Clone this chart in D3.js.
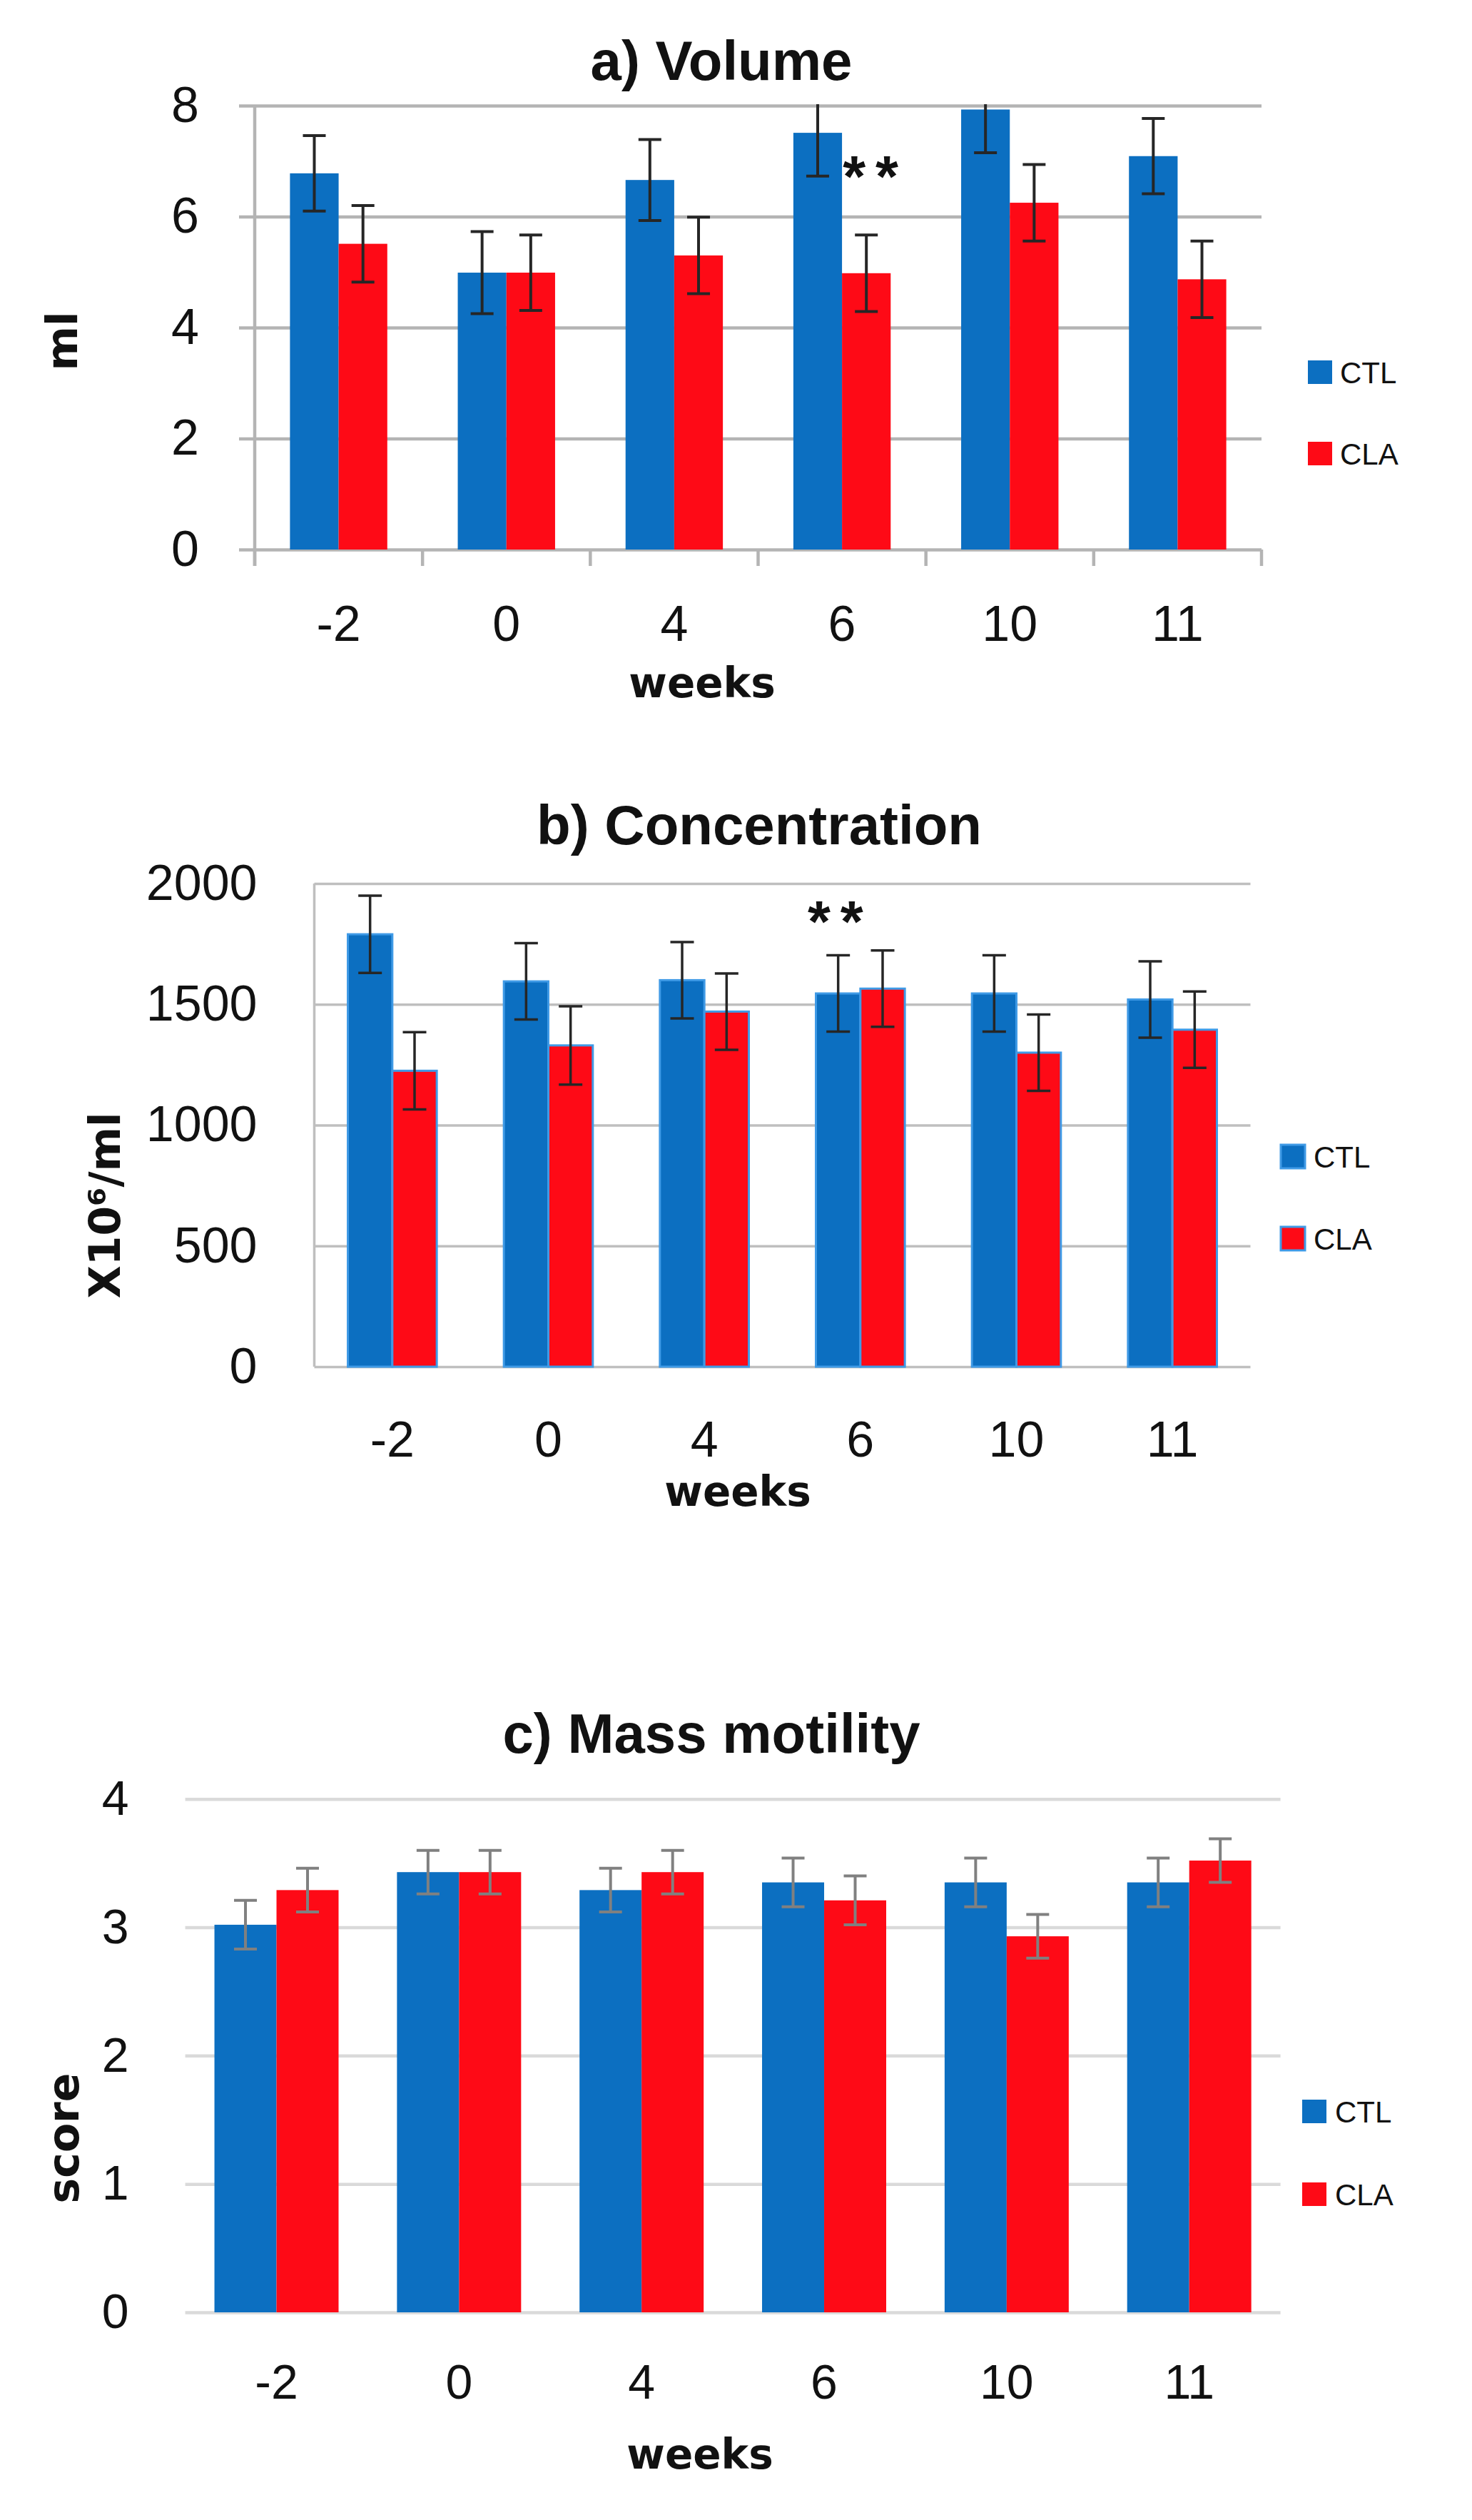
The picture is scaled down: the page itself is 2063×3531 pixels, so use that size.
<!DOCTYPE html>
<html>
<head>
<meta charset="utf-8">
<script src="https://cdn.jsdelivr.net/npm/d3@7"></script>
<style>
  body { margin: 0; background: #fff; }
</style>
</head>
<body>
<script>
const width = 2063;
const height = 3531;

// Data
const weeks = ["-2", "0", "4", "6", "10", "11"];
const series = ["CTL", "CLA"];
const colors = { CTL: "#0c6fc1", CLA: "#fe0a16" };

const volumeCTL = [6.78, 4.99, 6.66, 7.51, 7.93, 7.09];
const volumeCTLErr = [0.68, 0.74, 0.73, 0.78, 0.78, 0.68];
const volumeCLA = [5.51, 4.99, 5.3, 4.98, 6.25, 4.87];
const volumeCLAErr = [0.69, 0.68, 0.69, 0.69, 0.69, 0.69];
const volumeTicks = [0, 2, 4, 6, 8];

const concCTL = [1790, 1595, 1600, 1545, 1545, 1520];
const concCTLErr = [160, 158, 158, 158, 158, 158];
const concCLA = [1225, 1330, 1470, 1565, 1300, 1395];
const concCLAErr = [160, 162, 158, 158, 158, 158];
const concTicks = [0, 500, 1000, 1500, 2000];

const motCTL = [3.02, 3.43, 3.29, 3.35, 3.35, 3.35];
const motCTLErr = [0.19, 0.17, 0.17, 0.19, 0.19, 0.19];
const motCLA = [3.29, 3.43, 3.43, 3.21, 2.93, 3.52];
const motCLAErr = [0.17, 0.17, 0.17, 0.19, 0.17, 0.17];
const motTicks = [0, 1, 2, 3, 4];

const titles = ["a) Volume", "b) Concentration", "c) Mass motility"];
const yTitles = ["ml", "X10⁶/ml", "score"];
const xTitle = "weeks";
const starText = "**";

const labelFont = "'Liberation Sans', Arial, sans-serif";
const axisTitleFont = "'DejaVu Sans', Verdana, sans-serif";

const svg = d3
  .select("body")
  .append("svg")
  .attr("width", width)
  .attr("height", height);
svg.append("rect").attr("width", width).attr("height", height).attr("fill", "#fff");

// Layout of each panel
const panels = [
  {
    id: "a", title: titles[0], yTitle: yTitles[0], ticks: volumeTicks,
    ctl: volumeCTL, ctlErr: volumeCTLErr, cla: volumeCLA, claErr: volumeCLAErr,
    left: 357, right: 1768, top: 148, bottom: 770, pad: 0.42,
    gridExt: 22, gridColor: "#b4b4b4", gridWidth: 4.5, axisLine: true, catTicks: true,
    barStroke: null, errColor: "#262626", errWidth: 4, cap: 32,
    yPad: 78, xLabelY: 128, labelSize: 70,
    titlePos: [1011, 112], xTitlePos: [984, 977], yTitlePos: [108, 478],
    legendX: 1833, legendY: [505, 619], legendTextX: 1878,
    star: { index: 3, dx: 47, y: 275 }
  },
  {
    id: "b", title: titles[1], yTitle: yTitles[1], ticks: concTicks,
    ctl: concCTL, ctlErr: concCTLErr, cla: concCLA, claErr: concCLAErr,
    left: 440.5, right: 1752.5, top: 1238, bottom: 1915, pad: 0.43,
    gridExt: 0, gridColor: "#bfbfbf", gridWidth: 3.5, axisLine: true, catTicks: false,
    barStroke: "#3f9ae6", errColor: "#262626", errWidth: 3.5, cap: 33,
    yPad: 80, xLabelY: 126, labelSize: 70,
    titlePos: [1064, 1183], xTitlePos: [1034, 2110], yTitlePos: [168, 1689],
    legendX: 1795, legendY: [1604, 1719], legendTextX: 1841,
    star: { index: 3, dx: -28, y: 1319 }
  },
  {
    id: "c", title: titles[2], yTitle: yTitles[2], ticks: motTicks,
    ctl: motCTL, ctlErr: motCTLErr, cla: motCLA, claErr: motCLAErr,
    left: 259.6, right: 1794.6, top: 2520.7, bottom: 3240, pad: 0.32,
    gridExt: 0, gridColor: "#dadada", gridWidth: 4.5, axisLine: false, catTicks: false,
    barStroke: null, errColor: "#808080", errWidth: 4, cap: 32,
    yPad: 79, xLabelY: 121, labelSize: 68,
    titlePos: [997, 2456], xTitlePos: [981, 3459], yTitlePos: [110, 2996],
    legendX: 1825, legendY: [2942, 3058], legendTextX: 1871,
    star: null
  }
];

panels.forEach(drawPanel);

function drawPanel(p) {
  const x = d3
    .scaleBand()
    .domain(weeks)
    .range([p.left, p.right])
    .paddingInner(p.pad)
    .paddingOuter(p.pad / 2);
  const xs = d3.scaleBand().domain(series).range([0, x.bandwidth()]);
  const y = d3.scaleLinear().domain([0, d3.max(p.ticks)]).range([p.bottom, p.top]);

  const g = svg.append("g").attr("id", "panel-" + p.id);

  // Gridlines
  g.append("g")
    .attr("transform", `translate(${p.left - p.gridExt},0)`)
    .call(
      d3.axisLeft(y)
        .tickValues(p.ticks)
        .tickSize(-(p.right - p.left + p.gridExt))
        .tickFormat("")
    )
    .call((a) => a.select(".domain").remove())
    .call((a) =>
      a.selectAll("line").attr("stroke", p.gridColor).attr("stroke-width", p.gridWidth)
    );

  const rows = [];
  weeks.forEach((w, i) => {
    rows.push({ week: w, key: "CTL", value: p.ctl[i], err: p.ctlErr[i] });
    rows.push({ week: w, key: "CLA", value: p.cla[i], err: p.claErr[i] });
  });

  // Bars
  g.append("g")
    .selectAll("rect")
    .data(rows)
    .join("rect")
    .attr("x", (d) => x(d.week) + xs(d.key))
    .attr("y", (d) => y(d.value))
    .attr("width", xs.bandwidth())
    .attr("height", (d) => y(0) - y(d.value))
    .attr("fill", (d) => colors[d.key])
    .attr("stroke", p.barStroke || "none")
    .attr("stroke-width", p.barStroke ? 3 : 0);

  // Error bars, clipped to the plot area like the spreadsheet does
  const clipId = "clip-" + p.id;
  svg.append("clipPath")
    .attr("id", clipId)
    .append("rect")
    .attr("x", p.left)
    .attr("y", p.top - 2)
    .attr("width", p.right - p.left)
    .attr("height", p.bottom - p.top + 2);

  const err = g.append("g")
    .attr("clip-path", `url(#${clipId})`)
    .attr("stroke", p.errColor)
    .attr("stroke-width", p.errWidth)
    .selectAll("g")
    .data(rows)
    .join("g")
    .attr("transform", (d) => `translate(${x(d.week) + xs(d.key) + xs.bandwidth() / 2},0)`);
  err.append("line")
    .attr("y1", (d) => y(d.value - d.err))
    .attr("y2", (d) => y(d.value + d.err));
  err.append("line")
    .attr("x1", -p.cap / 2).attr("x2", p.cap / 2)
    .attr("y1", (d) => y(d.value + d.err))
    .attr("y2", (d) => y(d.value + d.err));
  err.append("line")
    .attr("x1", -p.cap / 2).attr("x2", p.cap / 2)
    .attr("y1", (d) => y(d.value - d.err))
    .attr("y2", (d) => y(d.value - d.err));

  // Axis lines
  if (p.axisLine) {
    const bottomExt = p.catTicks ? 23 : 0;
    g.append("line")
      .attr("x1", p.left).attr("x2", p.left)
      .attr("y1", y(d3.max(p.ticks))).attr("y2", p.bottom + bottomExt)
      .attr("stroke", p.gridColor).attr("stroke-width", p.gridWidth);
  }
  if (p.catTicks) {
    const gap = (x.step() - x.bandwidth()) / 2;
    const bounds = weeks.map((w) => x(w) - gap).concat([p.right]);
    g.append("g")
      .selectAll("line")
      .data(bounds)
      .join("line")
      .attr("x1", (d) => d).attr("x2", (d) => d)
      .attr("y1", p.bottom).attr("y2", p.bottom + 23)
      .attr("stroke", p.gridColor).attr("stroke-width", p.gridWidth);
  }

  // Y tick labels
  g.append("g")
    .attr("transform", `translate(${p.left},0)`)
    .call(
      d3.axisLeft(y)
        .tickValues(p.ticks)
        .tickFormat(d3.format("d"))
        .tickSize(0)
        .tickPadding(p.yPad)
    )
    .call((a) => a.select(".domain").remove())
    .attr("font-family", labelFont)
    .attr("font-size", p.labelSize)
    .selectAll("text")
    .attr("fill", "#111");

  // X tick labels
  g.append("g")
    .attr("transform", `translate(0,${p.bottom})`)
    .call(d3.axisBottom(x).tickSize(0))
    .call((a) => a.select(".domain").remove())
    .attr("font-family", labelFont)
    .attr("font-size", p.labelSize)
    .selectAll("text")
    .attr("y", p.xLabelY)
    .attr("dy", 0)
    .attr("fill", "#111");

  // Title
  g.append("text")
    .attr("x", p.titlePos[0])
    .attr("y", p.titlePos[1])
    .attr("text-anchor", "middle")
    .attr("font-family", labelFont)
    .attr("font-weight", "bold")
    .attr("font-size", 78)
    .attr("fill", "#111")
    .text(p.title);

  // Axis titles
  g.append("text")
    .attr("x", p.xTitlePos[0])
    .attr("y", p.xTitlePos[1])
    .attr("text-anchor", "middle")
    .attr("font-family", axisTitleFont)
    .attr("font-weight", "bold")
    .attr("font-size", 58)
    .attr("fill", "#111")
    .text(xTitle);

  g.append("text")
    .attr("transform", `translate(${p.yTitlePos[0]},${p.yTitlePos[1]}) rotate(-90)`)
    .attr("text-anchor", "middle")
    .attr("font-family", axisTitleFont)
    .attr("font-weight", "bold")
    .attr("font-size", 60)
    .attr("fill", "#111")
    .text(p.yTitle);

  // Significance mark
  if (p.star) {
    g.append("text")
      .attr("x", x(weeks[p.star.index]) + x.bandwidth() / 2 + p.star.dx)
      .attr("y", p.star.y)
      .attr("text-anchor", "middle")
      .attr("font-family", labelFont)
      .attr("font-weight", "bold")
      .attr("font-size", 82)
      .attr("letter-spacing", 14)
      .attr("fill", "#111")
      .text(starText);
  }

  // Legend
  const legend = g.append("g")
    .selectAll("g")
    .data(series)
    .join("g")
    .attr("transform", (d, i) => `translate(${p.legendX},${p.legendY[i]})`);
  legend.append("rect")
    .attr("width", 34)
    .attr("height", 33)
    .attr("fill", (d) => colors[d])
    .attr("stroke", p.barStroke || "none")
    .attr("stroke-width", p.barStroke ? 3 : 0);
  legend.append("text")
    .attr("x", p.legendTextX - p.legendX)
    .attr("y", 32)
    .attr("font-family", labelFont)
    .attr("font-size", 42)
    .attr("fill", "#111")
    .text((d) => d);
}
</script>
</body>
</html>
